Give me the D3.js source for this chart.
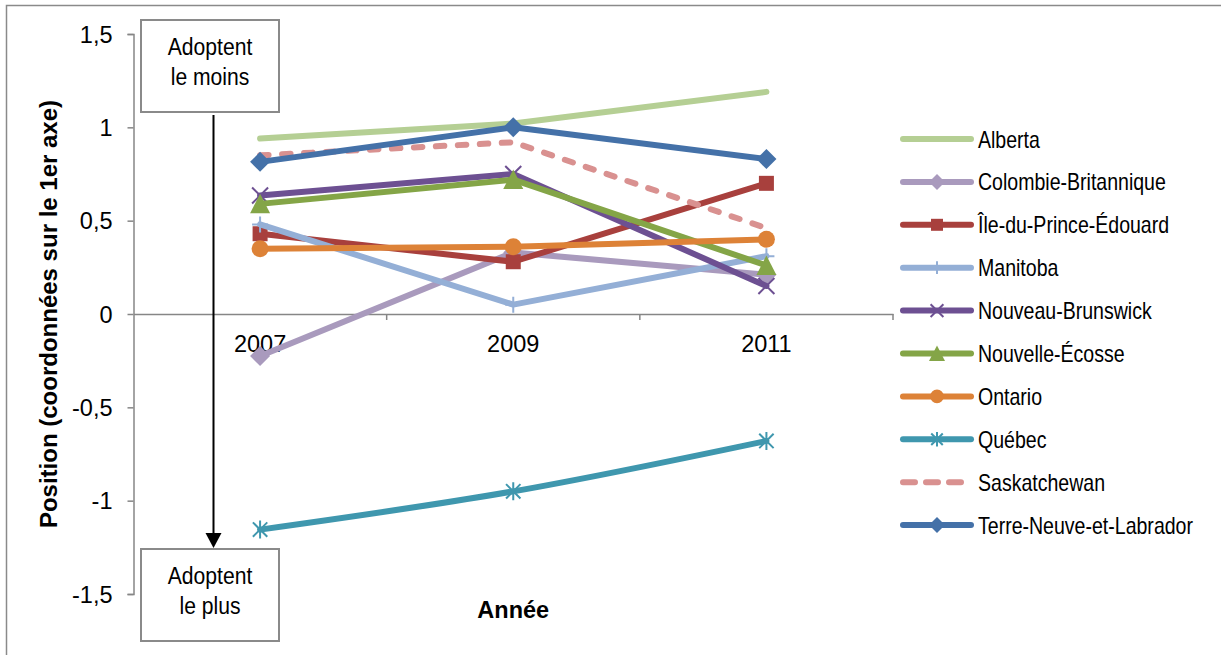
<!DOCTYPE html>
<html>
<head>
<meta charset="utf-8">
<script src="https://cdn.jsdelivr.net/npm/d3@7"></script>
<style>
  body { margin: 0; background: #fff; }
  svg { display: block; }
  .tick-lbl { font-family: "Liberation Sans", Arial, sans-serif; font-size: 23.5px; fill: #000; }
  .narrow { font-family: "Liberation Sans Narrow", "Arial Narrow", "Liberation Sans", sans-serif; }
</style>
</head>
<body>
<div id="chart"></div>
<script>
// values
var years = ['2007', '2009', '2011'];
var provinces = ['Alberta', 'Colombie-Britannique', 'Île-du-Prince-Édouard', 'Manitoba',
	'Nouveau-Brunswick', 'Nouvelle-Écosse', 'Ontario', 'Québec', 'Saskatchewan', 'Terre-Neuve-et-Labrador'];
var alberta = [0.94, 1.02, 1.19];
var colombieBritannique = [-0.225, 0.33, 0.21];
var ilePrinceEdouard = [0.43, 0.28, 0.70];
var manitoba = [0.48, 0.05, 0.31];
var nouveauBrunswick = [0.635, 0.75, 0.15];
var nouvelleEcosse = [0.59, 0.72, 0.26];
var ontario = [0.35, 0.36, 0.40];
var quebec = [-1.155, -0.95, -0.68];
var saskatchewan = [0.85, 0.92, 0.46];
var terreNeuve = [0.815, 1.0, 0.83];
var yTicks = [-1.5, -1, -0.5, 0, 0.5, 1, 1.5];

var seriesValues = [alberta, colombieBritannique, ilePrinceEdouard, manitoba, nouveauBrunswick,
	nouvelleEcosse, ontario, quebec, saskatchewan, terreNeuve];

// looks of each series, same order as provinces
var styles = [
	{color: '#b5cf94', marker: 'none'},
	{color: '#a99abd', marker: 'diamond', size: 10},
	{color: '#a8403d', marker: 'square', size: 7.5},
	{color: '#94afd6', marker: 'plus', size: 8},
	{color: '#6d5092', marker: 'times', size: 8},
	{color: '#84a547', marker: 'triangle', size: 10},
	{color: '#dd8237', marker: 'circle', size: 8.5},
	{color: '#3f97ae', marker: 'asterisk', size: 9, smooth: true},
	{color: '#d99190', marker: 'none', dash: '8.5,13.5'},
	{color: '#4471a8', marker: 'diamond', size: 10}
];

var width = 1221, height = 655;
var svg = d3.select('#chart').append('svg')
	.attr('width', width)
	.attr('height', height);

svg.append('rect').attr('width', width).attr('height', height).attr('fill', '#fff');

// outer chart border, runs off the right and bottom edges
svg.append('rect')
	.attr('x', 6.5).attr('y', 5.5)
	.attr('width', width + 20).attr('height', height + 20)
	.attr('fill', 'none').attr('stroke', '#8a8a8a').attr('stroke-width', 1.5);

var x = d3.scaleBand().domain(years).range([133.5, 893]).padding(0);
var y = d3.scaleLinear().domain([-1.5, 1.5]).range([594, 34]);

// no narrow face installed: squeeze the regular one horizontally
function narrowText(g, tx, ty, k, size, anchor, str) {
	return g.append('text')
		.attr('class', 'narrow')
		.attr('transform', 'translate(' + tx + ',' + ty + ') scale(' + k + ',1)')
		.attr('text-anchor', anchor)
		.attr('font-size', size)
		.text(str);
}

function markerPath(shape, h) {
	var p = d3.path();
	if (shape === 'diamond') {
		p.moveTo(0, -h); p.lineTo(h, 0); p.lineTo(0, h); p.lineTo(-h, 0); p.closePath();
	} else if (shape === 'square') {
		p.rect(-h, -h, 2 * h, 2 * h);
	} else if (shape === 'triangle') {
		p.moveTo(0, -h); p.lineTo(h, h * 0.95); p.lineTo(-h, h * 0.95); p.closePath();
	} else if (shape === 'circle') {
		p.arc(0, 0, h, 0, 2 * Math.PI);
	} else if (shape === 'plus') {
		p.moveTo(0, -h); p.lineTo(0, h); p.moveTo(-h, 0); p.lineTo(h, 0);
	} else if (shape === 'times') {
		p.moveTo(-h, -h); p.lineTo(h, h); p.moveTo(h, -h); p.lineTo(-h, h);
	} else if (shape === 'asterisk') {
		var d = h * 0.8;
		p.moveTo(-d, -d); p.lineTo(d, d); p.moveTo(d, -d); p.lineTo(-d, d);
		p.moveTo(0, -h); p.lineTo(0, h);
	}
	return p.toString();
}

function isStroked(shape) {
	return shape === 'plus' || shape === 'times' || shape === 'asterisk';
}

function drawMarker(g, st, cx, cy, scale) {
	if (st.marker === 'none') return;
	var h = st.size * (scale || 1);
	var m = g.append('path')
		.attr('transform', 'translate(' + cx + ',' + cy + ')')
		.attr('d', markerPath(st.marker, h));
	if (isStroked(st.marker)) {
		m.attr('fill', 'none').attr('stroke', st.color).attr('stroke-width', 2);
	} else {
		m.attr('fill', st.color);
	}
}

// y axis
var yAxis = svg.append('g')
	.attr('transform', 'translate(133.5,0)')
	.call(d3.axisLeft(y).tickValues(yTicks).tickSize(6).tickPadding(15)
		.tickFormat(function(d) { return String(d).replace('.', ','); }));
yAxis.select('.domain').attr('stroke', '#868686').attr('stroke-width', 1.5);
yAxis.selectAll('.tick line').attr('stroke', '#868686').attr('stroke-width', 1.5);
yAxis.selectAll('.tick text').attr('class', 'tick-lbl').attr('dy', '0.35em');

// x axis at zero, ticks between the categories
var xAxis = svg.append('g')
	.attr('transform', 'translate(0,' + y(0) + ')')
	.call(d3.axisBottom(x).tickSize(0).tickSizeOuter(0));
xAxis.select('.domain').attr('stroke', '#868686').attr('stroke-width', 1.5);
xAxis.selectAll('.tick text').attr('class', 'tick-lbl').attr('y', 38).attr('dy', 0);
xAxis.selectAll('line.sep')
	.data(years.slice(1).map(function(d) { return x(d); }).concat([x.range()[1]]))
	.enter().append('line')
	.attr('class', 'sep')
	.attr('x1', function(d) { return d; }).attr('x2', function(d) { return d; })
	.attr('y1', 0).attr('y2', 6)
	.attr('stroke', '#868686').attr('stroke-width', 1.5);

// axis titles
svg.append('text')
	.attr('transform', 'translate(57,' + ((y.range()[0] + y.range()[1]) / 2) + ') rotate(-90)')
	.attr('text-anchor', 'middle')
	.attr('font-family', '"Liberation Sans", Arial, sans-serif')
	.attr('font-size', 24).attr('font-weight', 'bold')
	.text('Position (coordonnées sur le 1er axe)');

svg.append('text')
	.attr('x', x('2009') + x.bandwidth() / 2).attr('y', 618)
	.attr('text-anchor', 'middle')
	.attr('font-family', '"Liberation Sans", Arial, sans-serif')
	.attr('font-size', 23.5).attr('font-weight', 'bold')
	.text('Année');

// lines and markers
var plot = svg.append('g');
var cx = function(i) { return x(years[i]) + x.bandwidth() / 2; };

provinces.forEach(function(name, k) {
	var st = styles[k];
	var vals = seriesValues[k];
	var line = d3.line()
		.x(function(d, i) { return cx(i); })
		.y(function(d) { return y(d); })
		.curve(st.smooth ? d3.curveCatmullRom.alpha(0.5) : d3.curveLinear);
	plot.append('path')
		.attr('d', line(vals))
		.attr('fill', 'none')
		.attr('stroke', st.color)
		.attr('stroke-width', 6)
		.attr('stroke-linejoin', 'round')
		.attr('stroke-linecap', 'round')
		.attr('stroke-dasharray', st.dash || null);
	vals.forEach(function(v, i) { drawMarker(plot, st, cx(i), y(v)); });
});

// legend
var legend = svg.append('g');
provinces.forEach(function(name, k) {
	var st = styles[k];
	var ly = 139 + k * 42.9;
	legend.append('line')
		.attr('x1', 903).attr('x2', st.dash ? 965 : 971)
		.attr('y1', ly).attr('y2', ly)
		.attr('stroke', st.color).attr('stroke-width', 6)
		.attr('stroke-linecap', 'round')
		.attr('stroke-dasharray', st.dash ? '12,11' : null);
	drawMarker(legend, st, 937, ly, 0.8);
	narrowText(legend, 978, ly + 8.5, 0.85, 23, 'start', name);
});

// annotation boxes and arrow
var notes = [
	{lines: ['Adoptent', 'le moins'], top: 20},
	{lines: ['Adoptent', 'le plus'], top: 549}
];
notes.forEach(function(n) {
	svg.append('rect')
		.attr('x', 141).attr('y', n.top)
		.attr('width', 138).attr('height', 92)
		.attr('fill', '#fff').attr('stroke', '#8a8a8a').attr('stroke-width', 2);
	n.lines.forEach(function(t, i) {
		narrowText(svg, 210, n.top + 35 + i * 30, 0.88, 24, 'middle', t);
	});
});

svg.append('line')
	.attr('x1', 213.5).attr('x2', 213.5)
	.attr('y1', 115).attr('y2', 536)
	.attr('stroke', '#000').attr('stroke-width', 2);
svg.append('path')
	.attr('d', 'M205.5,533 L221.5,533 L213.5,548 Z')
	.attr('fill', '#000');
</script>
</body>
</html>
